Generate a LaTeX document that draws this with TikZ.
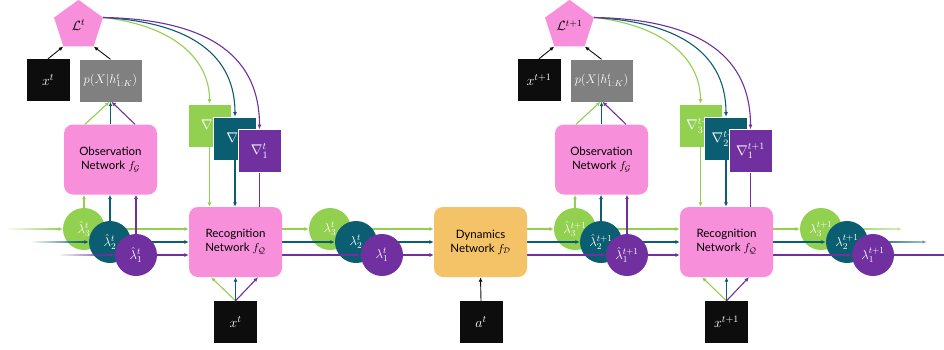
\RequirePackage{fix-cm}
\documentclass[tikz,border=0pt]{standalone}
\usepackage{fontspec}
\setmainfont{Lato}
\usetikzlibrary{shapes.geometric,arrows.meta,fadings}
\definecolor{mypink}{HTML}{F78FDB}
\definecolor{cg}{HTML}{92D050}
\definecolor{ct}{HTML}{0B5E72}
\definecolor{cp}{HTML}{7030A0}
\definecolor{myorange}{HTML}{F5C367}
\definecolor{mygray}{HTML}{808080}
\definecolor{myblack}{HTML}{0D0D0D}
\pgfdeclarelayer{BG}
\pgfdeclarelayer{LA}\pgfdeclarelayer{CA}
\pgfdeclarelayer{LB}\pgfdeclarelayer{CB}
\pgfdeclarelayer{LC}\pgfdeclarelayer{CC}
\pgfsetlayers{BG,LA,CA,LB,CB,LC,CC,main}
\tikzfading[name=fadeL, left color=transparent!95, right color=transparent!0]
\tikzfading[name=fadeR, left color=transparent!0, right color=transparent!65]
\tikzset{
  sqbox/.style={rectangle, minimum width=43pt, minimum height=42pt, inner sep=0pt, text=white, font=\fontsize{14}{16}\selectfont},
  blk/.style={sqbox, fill=myblack},
  gry/.style={sqbox, fill=mygray, minimum width=62pt, font=\fontsize{12.5}{14}\selectfont},
  net/.style={rectangle, rounded corners=9pt, minimum width=93pt, minimum height=70pt, align=center, inner sep=2pt, font=\fontsize{11.5}{14}\selectfont, fill=mypink},
  lam/.style={circle, minimum size=42pt, inner sep=0pt, text=white, font=\fontsize{13}{15}\selectfont},
  nab/.style={sqbox, minimum height=43pt, draw=white, line width=0.6pt},
  pent/.style={regular polygon, regular polygon sides=5, minimum size=51.4pt, inner sep=0pt, fill=mypink, font=\fontsize{13.5}{15}\selectfont},
  ln/.style={line width=1.1pt},
  con/.style={ln, -{Latex[length=4.5pt,width=4pt]}},
  conk/.style={line width=0.9pt, -{Latex[length=4.5pt,width=4pt]}, myblack},
}
% #1 suffix, #2 x offset, #3 superscript
\newcommand{\tgroup}[3]{%
  \node[pent] (L#1) at (78.5+#2,25.5) {$\mathcal{L}^{#3}$};
  \node[blk] (xa#1) at (48+#2,80) {$x^{#3}$};
  \node[gry] (p#1) at (110.5+#2,80.5) {$p(X|h^t_{1:K})$};
  \node[net] (obs#1) at (110.5+#2,159.5) {Observation\\Network $f_{\mathcal{G}}$};
  \node[net] (rec#1) at (235.5+#2,242) {Recognition\\Network $f_{\mathcal{Q}}$};
  \node[blk] (xb#1) at (235.5+#2,322) {$x^{#3}$};
  \node[nab, fill=cg] (ng#1) at (209.5+#2,125.5) {$\nabla^{#3}_3$};
  \node[nab, fill=ct] (nt#1) at (235+#2,138.5) {$\nabla^{#3}_2$};
  \node[nab, fill=cp] (np#1) at (259.5+#2,151) {$\nabla^{#3}_1$};
  \begin{pgfonlayer}{CA}
    \node[lam, fill=cg] (hg#1) at (84+#2,229) {$\hat\lambda^{#3}_3$};
    \node[lam, fill=cg] (lg#1) at (330+#2,229) {$\lambda^{#3}_3$};
  \end{pgfonlayer}
  \begin{pgfonlayer}{CB}
    \node[lam, fill=ct] (ht#1) at (110+#2,242) {$\hat\lambda^{#3}_2$};
    \node[lam, fill=ct] (lt#1) at (356+#2,242) {$\lambda^{#3}_2$};
  \end{pgfonlayer}
  \begin{pgfonlayer}{CC}
    \node[lam, fill=cp] (hp#1) at (136+#2,255) {$\hat\lambda^{#3}_1$};
    \node[lam, fill=cp] (lp#1) at (382+#2,255) {$\lambda^{#3}_1$};
  \end{pgfonlayer}
  % loss inputs
  \draw[conk] (xa#1.north) -- (L#1.corner 3);
  \draw[conk] (p#1.north) -- (L#1.corner 4);
  % observation network to likelihood
  \draw[con, cg] ([xshift=-25.5pt]obs#1.north) -- ([xshift=-1pt]p#1.south);
  \draw[con, ct] (obs#1.north) -- (p#1.south);
  \draw[con, cp] ([xshift=24.5pt]obs#1.north) -- ([xshift=1pt]p#1.south);
  % gradients
  \draw[con, cg] (L#1.corner 5) .. controls +(70,8) and +(0,-45) .. (ng#1.north);
  \draw[con, ct] (L#1.corner 5) .. controls +(90,5) and +(0,-60) .. (nt#1.north);
  \draw[con, cp] (L#1.corner 5) .. controls +(110,2) and +(0,-70) .. (np#1.north);
  \draw[con, cg] (ng#1.south) -- (rec#1.north -| ng#1);
  \draw[con, ct] (nt#1.south) -- (rec#1.north -| nt#1);
  \draw[ln, cp] (np#1.south) -- (rec#1.north -| np#1);
  % observation into recognition
  \draw[con, cg] (xb#1.north) -- ([xshift=-24.5pt]rec#1.south);
  \draw[con, ct] (xb#1.north) -- (rec#1.south);
  \draw[con, cp] (xb#1.north) -- ([xshift=22.5pt]rec#1.south);
  \begin{pgfonlayer}{LA}
    \draw[con, cg] (hg#1.north) -- (obs#1.south -| hg#1);
    \draw[con, cg] (hg#1.east) -- (rec#1.west |- hg#1);
    \draw[con, cg] (rec#1.east |- lg#1) -- (lg#1.west);
  \end{pgfonlayer}
  \begin{pgfonlayer}{LB}
    \draw[con, ct] (ht#1.north) -- (obs#1.south -| ht#1);
    \draw[con, ct] (ht#1.east) -- (rec#1.west |- ht#1);
    \draw[con, ct] (rec#1.east |- lt#1) -- (lt#1.west);
  \end{pgfonlayer}
  \begin{pgfonlayer}{LC}
    \draw[con, cp] (hp#1.north) -- (obs#1.south -| hp#1);
    \draw[con, cp] (hp#1.east) -- (rec#1.west |- hp#1);
    \draw[con, cp] (rec#1.east |- lp#1) -- (lp#1.west);
  \end{pgfonlayer}
}
\begin{document}
\begin{tikzpicture}[x=1pt, y=-1pt]
  \begin{pgfonlayer}{BG}
    \fill[white] (0,0) rectangle (944,349);
  \end{pgfonlayer}
  \useasboundingbox (0,0) rectangle (944,349);
  \tgroup{a}{0}{t}
  \tgroup{b}{491}{t+1}
  \node[net, fill=myorange] (dyn) at (480.5,242) {Dynamics\\Network $f_{\mathcal{D}}$};
  \node[blk] (act) at (481,322) {$a^t$};
  \draw[conk] (act.north) -- (dyn.south);
  \coordinate (inG) at (8,229);
  \coordinate (inT) at (33,242);
  \coordinate (inP) at (60,255);
  \coordinate (outG) at (902,229);
  \coordinate (outT) at (927,242);
  \coordinate (outP) at (944,255);
  \begin{pgfonlayer}{LA}
    \draw[con, cg, path fading=fadeL] (inG) -- (hga.west);
    \draw[con, cg] (lga.east) -- (dyn.west |- lga);
    \draw[con, cg] (dyn.east |- hgb) -- (hgb.west);
    \draw[con, cg, path fading=fadeR] (lgb.east) -- (outG);
  \end{pgfonlayer}
  \begin{pgfonlayer}{LB}
    \draw[con, ct, path fading=fadeL] (inT) -- (hta.west);
    \draw[con, ct] (lta.east) -- (dyn.west |- lta);
    \draw[con, ct] (dyn.east |- htb) -- (htb.west);
    \draw[con, ct, path fading=fadeR] (ltb.east) -- (outT);
  \end{pgfonlayer}
  \begin{pgfonlayer}{LC}
    \draw[con, cp, path fading=fadeL] (inP) -- (hpa.west);
    \draw[con, cp] (lpa.east) -- (dyn.west |- lpa);
    \draw[con, cp] (dyn.east |- hpb) -- (hpb.west);
    \draw[ln, cp] (lpb.east) -- (outP);
  \end{pgfonlayer}
\end{tikzpicture}
\end{document}
